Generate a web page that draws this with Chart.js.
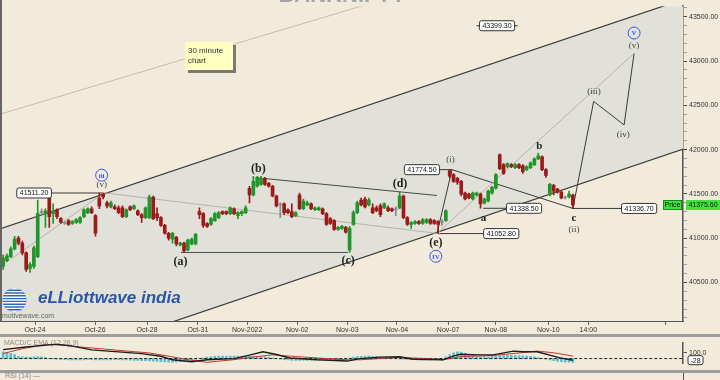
<!DOCTYPE html>
<html><head><meta charset="utf-8">
<script src="https://cdn.jsdelivr.net/npm/chart.js@4/dist/chart.umd.min.js"></script>
<style>
html,body{margin:0;padding:0;background:#F2EBDB;width:720px;height:380px;overflow:hidden;}
#main{position:absolute;left:0;top:0;width:720px;height:334px;}
#sep1{position:absolute;left:0;top:334px;width:720px;height:3px;background:#9d9d9d;}
#macdBox{position:absolute;left:0;top:337px;width:720px;height:33px;}
#sep2{position:absolute;left:0;top:370px;width:720px;height:3px;background:#9d9d9d;}
#rsiLabel{position:absolute;left:5px;top:372px;font:7px 'Liberation Sans';color:#888;}
#raxis{position:absolute;left:683px;top:373px;width:1px;height:7px;background:#555;}
</style></head>
<body>
<div id="main"><canvas id="c1"></canvas></div>
<div id="sep1"></div>
<div id="macdBox"><canvas id="c2"></canvas></div>
<div id="sep2"></div>
<div id="rsiLabel">RSI (14) —</div>
<div id="raxis"></div>
<script>
// ---------- DATA ----------
const opens = [40681,40747,40791,40880,41001,40946,40835,40659,40681,40791,
41289,41289,41466,41278,41322,41222,41178,41200,41167,41178,
41178,41244,41289,41333,41256,41455,41499,41399,41355,41355,
41344,41344,41244,41355,41333,41311,41267,41233,41233,41466,
41278,41233,41145,41057,40990,41012,40924,40946,40869,40935,
40935,41300,41278,41167,41156,41200,41233,41300,41300,41278,
41333,41256,41278,41289,41565,41488,41587,41609,41676,41620,
41587,41477,41377,41388,41322,41300,41256,41488,41333,41377,
41388,41322,41322,41333,41278,41222,41200,41101,41112,41123,
40869,41156,41289,41432,41443,41377,41344,41344,41366,41344,
41344,41333,41333,41344,41477,41233,41156,41167,41189,41167,
41178,41211,41200,41189,41178,41200,41765,41720,41676,41642,
41510,41499,41443,41488,41499,41399,41421,41510,41565,41941,
41831,41808,41831,41797,41831,41819,41775,41797,41831,41897,
41919,41775,41488,41598,41554,41521,41455,41466,41488];
const closes = [40780,40802,40880,40990,40946,40835,40648,40703,40891,41278,
41300,41311,41244,41300,41244,41178,41167,41156,41189,41211,
41233,41322,41333,41289,41057,41366,41466,41366,41399,41333,
41289,41244,41322,41322,41366,41267,41233,41344,41466,41222,
41233,41145,41057,41001,41057,40935,40946,40858,40979,40990,
41045,41267,41145,41134,41222,41278,41289,41278,41278,41344,
41278,41289,41300,41344,41488,41642,41687,41676,41609,41587,
41477,41366,41388,41289,41289,41244,41289,41333,41421,41399,
41333,41344,41344,41278,41156,41167,41101,41123,41134,41068,
41112,41289,41399,41377,41355,41432,41289,41311,41267,41388,
41311,41311,41322,41477,41233,41156,41178,41189,41167,41211,
41211,41167,41167,41156,41189,41311,41700,41642,41631,41499,
41443,41455,41510,41510,41388,41443,41532,41576,41720,41786,
41731,41842,41808,41831,41797,41753,41808,41853,41897,41930,
41775,41709,41609,41532,41521,41455,41466,41499,41375.6];
const highs = [40813,40824,40902,41023,41023,40968,40846,40725,40913,41432,
41333,41333,41477,41388,41333,41233,41189,41211,41200,41222,
41244,41333,41344,41355,41267,41510,41511.2,41421,41421,41377,
41366,41366,41333,41366,41377,41322,41278,41355,41488,41477,
41344,41244,41156,41068,41068,41023,40957,40957,40990,41001,
41057,41344,41289,41178,41233,41289,41300,41311,41311,41355,
41344,41300,41311,41366,41587,41698,41698,41698,41687,41631,
41598,41488,41399,41399,41333,41388,41300,41510,41443,41421,
41399,41355,41355,41344,41289,41233,41211,41134,41145,41134,
41134,41311,41421,41455,41466,41455,41388,41366,41388,41399,
41366,41344,41355,41521,41488,41244,41189,41200,41200,41222,
41222,41222,41211,41200,41211,41322,41774.5,41731,41687,41654,
41521,41510,41521,41521,41510,41455,41543,41587,41731,41952,
41842,41853,41842,41842,41842,41831,41819,41864,41908,41963,
41930,41786,41620,41609,41565,41532,41477,41532,41499];
const lows = [40648,40736,40780,40869,40924,40813,40626,40615,40659,40780,
41267,41123,41123,41167,41222,41167,41156,41145,41156,41167,
41167,41233,41278,41278,41023,41333,41443,41344,41344,41322,
41278,41233,41233,41311,41322,41256,41178,41222,41222,41211,
41200,41134,41045,40979,40946,40913,40913,40840,40858,40924,
40924,41222,41123,41123,41145,41189,41222,41267,41267,41267,
41267,41222,41256,41278,41399,41477,41576,41598,41598,41576,
41466,41355,41233,41267,41278,41233,41244,41322,41322,41366,
41322,41311,41311,41267,41145,41156,41090,41090,41101,41057,
40840,41145,41278,41366,41344,41366,41278,41300,41244,41333,
41300,41300,41256,41333,41222,41145,41112,41156,41156,41156,
41167,41156,41156,41052.8,41145,41189,41680,41631,41609,41477,
41432,41443,41432,41477,41338.5,41388,41410,41499,41554,41775,
41720,41797,41797,41786,41786,41731,41764,41786,41819,41886,
41764,41687,41477,41488,41510,41443,41443,41455,41336.7];

const tickIdx    = [8.3, 23.9, 37.4, 50.6, 63.4, 76.4, 89.4, 102.3, 115.6, 128, 141.6, 152, 172];
const tickLabels = ['Oct-24','Oct-26','Oct-28','Oct-31','Nov-2022','Nov-02','Nov-03','Nov-04','Nov-07','Nov-08','Nov-10','14:00',''];
const priceTicks = [40500, 41000, 41500, 42000, 42500, 43000, 43500];

// channel and wave lines: [bar index, price]
const channelUpper = [[-1, 41103], [178, 43716]];
const channelLower = [[-1, 39394], [178, 42027]];
const outerThinLine = [[-1, 42398], [103.1, 43752]];
const leadInLine = [[-0.5, 40686], [25.2, 41483]];
const triangleLower = [[25.7, 41516], [113.5, 41051]];
const triangleUpper = [[66.2, 41682], [112.7, 41483]];
const aLevelLine = [[46.2, 40840], [89.6, 40840]];
const waveI = [[112.7, 41052.8], [116.6, 41774.5], [148, 41336.7]];
const projection = [[148, 41336.7], [153.4, 42545], [161.3, 42280], [163.9, 43088]];
const targetLine = [[112.7, 41052.8], [163.9, 43088]];
const connectors = [
  [[12.2, 41511.2], [25.7, 41511.2]],
  [[113.0, 41774.5], [116.6, 41774.5]],
  [[124.7, 41338.5], [131.2, 41338.5]],
  [[148, 41336.7], [161, 41336.7]],
  [[112.7, 41052.8], [125.2, 41052.8]]
];
const priceBoxes = [
  ['41511.20', 8.05, 41511.2], ['41774.50', 108.8, 41774.5], ['41338.50', 135.3, 41338.5],
  ['41336.70', 165.2, 41336.7], ['41052.80', 129.4, 41052.8], ['43399.30', 128.3, 43399.3]
];
// wave labels: text, index, price, kind
const waveLabels = [
  ['iii', 25.6, 41712, 'circle'], ['(v)', 25.6, 41601, 'minor'],
  ['(a)', 46.1, 40730, 'major'], ['(b)', 66.3, 41785, 'major'], ['(c)', 89.6, 40741, 'major'],
  ['(d)', 103.1, 41616, 'major'], ['(e)', 112.4, 40944, 'major'], ['IV', 112.4, 40797, 'circle'],
  ['(i)', 116.2, 41885, 'minor'], ['a', 124.8, 41228, 'small'], ['b', 139.3, 42044, 'small'],
  ['c', 148.3, 41228, 'small'], ['(ii)', 148.3, 41092, 'minor'], ['(iii)', 153.5, 42653, 'minor'],
  ['(iv)', 161.1, 42173, 'minor'], ['(v)', 163.9, 43177, 'minor'], ['V', 163.9, 43317, 'circle']
];
const lastPrice = 41375.6;

// MACD panel
const macdLine = [[0,154],[6,200],[12,236],[14,247],[18,215],[23,150],[30,115],[36,86],[41,40],[44,-21],[49,-54],[53,-21],[60,0],[64,60],[67.5,118],[71,70],[74.5,11],[81.6,-21],[89.4,-43],[92.7,0],[98,25],[103,32],[106.5,-11],[114.3,-21],[116.9,43],[118.7,75],[123.9,64],[127.3,64],[132.5,129],[135,118],[138.7,118],[144.7,11],[148,-28]];
const signalLine = [[0,86],[5,170],[10.4,236],[13,247],[20,200],[25,172],[32,130],[38,97],[44,30],[48,-21],[53,-64],[59.7,-21],[64,20],[68.6,54],[70,64],[76,35],[81.6,11],[89.4,-21],[92.7,-21],[103,21],[110,0],[114.3,-21],[118.7,32],[127.3,54],[133,90],[138.7,129],[143,100],[148,43]];
const histogram = [115,105,90,70,40,30,25,25,30,35,30,20,5,-5,-10,-15,
-20,-22,-25,-25,-25,-22,-20,-20,-22,-25,-25,-25,-22,-20,-20,-22,-25,-28,-30,
-32,-35,-38,-42,-45,-50,-55,-58,-60,-60,-58,-55,-50,-42,-30,-15,
5,15,25,32,38,42,45,45,45,45,45,42,42,40,40,38,35,30,22,12,0,
-10,-18,-25,-30,-32,-32,-30,-30,-28,-28,-25,-25,-25,-22,-20,-18,-12,-5,
10,25,35,40,42,42,40,38,32,22,
12,5,2,-5,-10,-15,
-18,-20,-22,-22,-22,-22,-20,-18,-12,
30,70,100,115,110,95,75,55,
35,30,30,32,38,
45,50,52,55,55,52,50,48,45,40,30,18,
5,-10,-25,-38,-48,-55,-60,-64,-65];
const macdLast = -28;

// ---------- STYLE ----------
const BG = '#F2EBDB', CHAN = '#E1E1DA';
const X_MIN = -0.8, X_MAX = 176.6, Y_MIN = 40066, Y_MAX = 43620;
const GREEN = '#21952a', RED = '#9c1a1a', GREY = '#858b95';
Chart.defaults.font.family = '"Liberation Sans", Arial, sans-serif';
Chart.defaults.font.size = 7;
Chart.defaults.color = '#333';

const pts = a => a.map(p => ({x: p[0], y: p[1]}));
const candleColor = ctx => {
  const i = ctx.dataIndex; const d = closes[i] - opens[i];
  if (Math.abs(d) < 12) return GREY;
  return d > 0 ? GREEN : RED;
};
const line = (data, color, width, order, extra) => Object.assign({
  type: 'line', data: pts(data), borderColor: color, borderWidth: width,
  pointRadius: 0, fill: false, tension: 0, order: order
}, extra || {});

const datasets = [
  line(channelUpper, '#3b3b3b', 1.2, 20, {fill: '+1', backgroundColor: CHAN}),
  line(channelLower, '#3b3b3b', 1.2, 19),
  line(outerThinLine, '#c6bba8', 1, 15),
  line(leadInLine, '#b4b4ac', 1, 15),
  line(triangleLower, '#b4b4ac', 1, 15),
  line(targetLine, '#b4b4ac', 1, 15),
  line(triangleUpper, '#4a4a4a', 1, 15),
  line(aLevelLine, '#4a4a4a', 1, 15),
  line(waveI, '#3a3a3a', 1, 15),
  line(projection, '#3a3a3a', 1, 15),
  ...connectors.map(c => line(c, '#3a3a3a', 1, 15)),
  {type: 'bar', data: lows.map((l, i) => ({x: i, y: [l, highs[i]]})), backgroundColor: candleColor,
   barThickness: 1, grouped: false, order: 3, minBarLength: 1},
  {type: 'bar', data: opens.map((o, i) => ({x: i, y: [o, closes[i]]})), backgroundColor: candleColor,
   barThickness: 3, grouped: false, order: 2, minBarLength: 1}
];

function roundRect(ctx, x, y, w, h, r) {
  ctx.beginPath();
  ctx.moveTo(x + r, y); ctx.lineTo(x + w - r, y); ctx.quadraticCurveTo(x + w, y, x + w, y + r);
  ctx.lineTo(x + w, y + h - r); ctx.quadraticCurveTo(x + w, y + h, x + w - r, y + h);
  ctx.lineTo(x + r, y + h); ctx.quadraticCurveTo(x, y + h, x, y + h - r);
  ctx.lineTo(x, y + r); ctx.quadraticCurveTo(x, y, x + r, y); ctx.closePath();
}

const overlay = {
  id: 'overlay',
  beforeDraw(chart) {
    const ctx = chart.ctx;
    ctx.save(); ctx.fillStyle = BG; ctx.fillRect(0, 0, chart.width, chart.height); ctx.restore();
  },
  afterDatasetsDraw(chart) {
    const {ctx, scales: {x, y}} = chart;
    const X = v => x.getPixelForValue(v), Y = v => y.getPixelForValue(v);
    ctx.save();
    // title (cut off at top)
    ctx.fillStyle = '#a5a5a5'; ctx.font = 'bold 22px "Liberation Sans"'; ctx.textAlign = 'center';
    ctx.textBaseline = 'alphabetic'; ctx.fillText('BANKNIFTY', 342, 1.5);
    // sticky note
    ctx.fillStyle = '#7a7a72'; ctx.fillRect(188, 45, 48, 28);
    ctx.fillStyle = '#FFFFC2'; ctx.fillRect(185, 42, 48, 28);
    ctx.fillStyle = '#333'; ctx.font = '8px "Liberation Sans"'; ctx.textAlign = 'left'; ctx.textBaseline = 'middle';
    ctx.fillText('30 minute', 188, 51); ctx.fillText('chart', 188, 61);
    // logo
    ctx.save();
    ctx.beginPath(); ctx.arc(14.5, 300, 12, 0, Math.PI * 2); ctx.fillStyle = '#2d66b8'; ctx.fill(); ctx.clip();
    ctx.strokeStyle = '#ffffff'; ctx.lineWidth = 1.4;
    for (let k = -4; k <= 4; k++) { ctx.beginPath(); ctx.moveTo(0, 300 + k * 2.8); ctx.lineTo(30, 300 + k * 2.8); ctx.stroke(); }
    ctx.restore();
    ctx.fillStyle = '#2a55a8'; ctx.font = 'italic bold 17px "Liberation Sans"'; ctx.textAlign = 'left'; ctx.textBaseline = 'middle';
    ctx.fillText('eLLiottwave india', 38, 298, 156);
    ctx.fillStyle = '#666'; ctx.font = '7px "Liberation Sans"'; ctx.fillText('motivewave.com', 2, 316);
    // price boxes
    priceBoxes.forEach(([t, i, p]) => {
      ctx.font = '7px "Liberation Sans"';
      const w = ctx.measureText(t).width + 6, h = 10, cx = X(i), cy = Y(p);
      roundRect(ctx, cx - w / 2, cy - h / 2, w, h, 2);
      ctx.fillStyle = '#fff'; ctx.fill(); ctx.strokeStyle = '#333'; ctx.lineWidth = 1; ctx.stroke();
      ctx.fillStyle = '#111'; ctx.textAlign = 'center'; ctx.textBaseline = 'middle'; ctx.fillText(t, cx, cy + 0.5);
      if (t === '43399.30') {
        ctx.beginPath(); ctx.moveTo(cx - w / 2 - 3, cy); ctx.lineTo(cx - w / 2, cy);
        ctx.moveTo(cx + w / 2, cy); ctx.lineTo(cx + w / 2 + 3, cy); ctx.stroke();
      }
    });
    // wave labels
    waveLabels.forEach(([t, i, p, k]) => {
      const cx = X(i), cy = Y(p);
      ctx.textAlign = 'center'; ctx.textBaseline = 'middle';
      if (k === 'circle') {
        ctx.beginPath(); ctx.arc(cx, cy, 6, 0, Math.PI * 2); ctx.strokeStyle = '#3b55ea'; ctx.lineWidth = 1; ctx.stroke();
        ctx.fillStyle = '#3b55ea'; ctx.font = 'bold 7px "Liberation Serif"'; ctx.fillText(t, cx, cy + 0.5);
      } else if (k === 'major') {
        ctx.fillStyle = '#222'; ctx.font = 'bold 12px "Liberation Serif"'; ctx.fillText(t, cx, cy);
      } else if (k === 'small') {
        ctx.fillStyle = '#222'; ctx.font = 'bold 11px "Liberation Serif"'; ctx.fillText(t, cx, cy);
      } else {
        ctx.fillStyle = '#444'; ctx.font = '9px "Liberation Serif"'; ctx.fillText(t, cx, cy);
      }
    });
    ctx.restore();
  },
  afterDraw(chart) {
    const {ctx, scales: {y}, chartArea: a} = chart;
    const yy = y.getPixelForValue(lastPrice);
    ctx.save();
    ctx.fillStyle = '#666'; ctx.fillRect(0, 0, 2, a.bottom);
    ctx.font = '7px "Liberation Sans"'; ctx.textBaseline = 'middle'; ctx.textAlign = 'center';
    ctx.fillStyle = '#3fe23f'; ctx.fillRect(663, yy - 5, 19, 10);
    ctx.strokeStyle = '#1c8a1c'; ctx.lineWidth = 1; ctx.strokeRect(663.5, yy - 4.5, 18, 9);
    ctx.fillStyle = '#111'; ctx.fillText('Price', 672.5, yy + 0.5);
    ctx.fillStyle = '#3fe23f'; ctx.fillRect(686, yy - 5, 34, 10);
    ctx.fillStyle = '#111'; ctx.fillText(lastPrice.toFixed(2), 703, yy + 0.5);
    ctx.restore();
  }
};

new Chart(document.getElementById('c1'), {
  type: 'bar',
  data: {datasets},
  options: {
    responsive: true, maintainAspectRatio: false, animation: false,
    layout: {padding: 0},
    plugins: {legend: {display: false}, tooltip: {enabled: false}},
    scales: {
      x: {
        type: 'linear', min: X_MIN, max: X_MAX, offset: false, position: 'bottom',
        afterBuildTicks: s => { s.ticks = tickIdx.map(v => ({value: v})); },
        afterFit: s => { s.height = 13; },
        ticks: {callback: (v, i) => tickLabels[i], autoSkip: false, maxRotation: 0, minRotation: 0, padding: 1, color: '#333', font: {size: 7}},
        grid: {drawOnChartArea: false, tickLength: 4, color: '#666', offset: false},
        border: {color: '#555', width: 1}
      },
      y: {
        position: 'right', min: Y_MIN, max: Y_MAX,
        afterBuildTicks: s => {
          const t = [];
          for (let v = 40100; v <= 43600; v += 100) t.push({value: v});
          s.ticks = t;
        },
        afterFit: s => { s.width = 37; },
        ticks: {autoSkip: false, padding: 2, color: '#333', font: {size: 7},
          callback: v => priceTicks.includes(v) ? v.toFixed(2) : ''},
        grid: {drawOnChartArea: false, tickLength: 4,
          tickColor: c => (c.tick && priceTicks.includes(c.tick.value)) ? '#444' : '#a0a0a0'},
        border: {color: '#555', width: 1.5}
      }
    }
  },
  plugins: [overlay]
});

// ---------- MACD ----------
const macdOverlay = {
  id: 'macdOverlay',
  beforeDraw(chart) {
    const ctx = chart.ctx;
    ctx.save(); ctx.fillStyle = BG; ctx.fillRect(0, 0, chart.width, chart.height);
    ctx.fillStyle = '#8a8a8a'; ctx.font = '7px "Liberation Sans"'; ctx.textBaseline = 'middle';
    ctx.fillText('MACD/C EMA (12,26,9)', 4, 6);
    ctx.restore();
  },
  afterDraw(chart) {
    const {ctx, scales: {y}} = chart;
    const yy = y.getPixelForValue(macdLast);
    ctx.save();
    ctx.font = '7px "Liberation Sans"'; ctx.textBaseline = 'middle'; ctx.textAlign = 'center';
    roundRect(ctx, 688, yy - 4.5, 15, 9, 2);
    ctx.fillStyle = '#fff'; ctx.fill(); ctx.strokeStyle = '#333'; ctx.lineWidth = 1; ctx.stroke();
    ctx.fillStyle = '#111'; ctx.fillText(String(macdLast), 695.5, yy + 0.5);
    ctx.restore();
  }
};

new Chart(document.getElementById('c2'), {
  type: 'bar',
  data: {datasets: [
    {type: 'bar', data: histogram.map((v, i) => ({x: i, y: v})), backgroundColor: '#5cc0d0',
     borderColor: '#3a8fa8', borderWidth: 0, barThickness: 2, order: 5},
    line([[-1, 0], [178, 0]], '#222', 1, 4, {borderDash: [3, 2]}),
    line(signalLine, '#c0392b', 1, 2),
    line(macdLine, '#1e1e1e', 1.4, 1)
  ]},
  options: {
    responsive: true, maintainAspectRatio: false, animation: false,
    layout: {padding: 0},
    plugins: {legend: {display: false}, tooltip: {enabled: false}},
    scales: {
      x: {type: 'linear', min: X_MIN, max: X_MAX, offset: false, display: false},
      y: {
        position: 'right', min: -90, max: 265,
        afterBuildTicks: s => { s.ticks = [{value: 100}]; },
        afterFit: s => { s.width = 37; },
        ticks: {autoSkip: false, padding: 2, color: '#333', font: {size: 7}, callback: v => v.toFixed(1)},
        grid: {drawOnChartArea: false, tickLength: 4, color: '#555'},
        border: {color: '#555', width: 1.5}
      }
    }
  },
  plugins: [macdOverlay]
});
</script>
</body></html>
